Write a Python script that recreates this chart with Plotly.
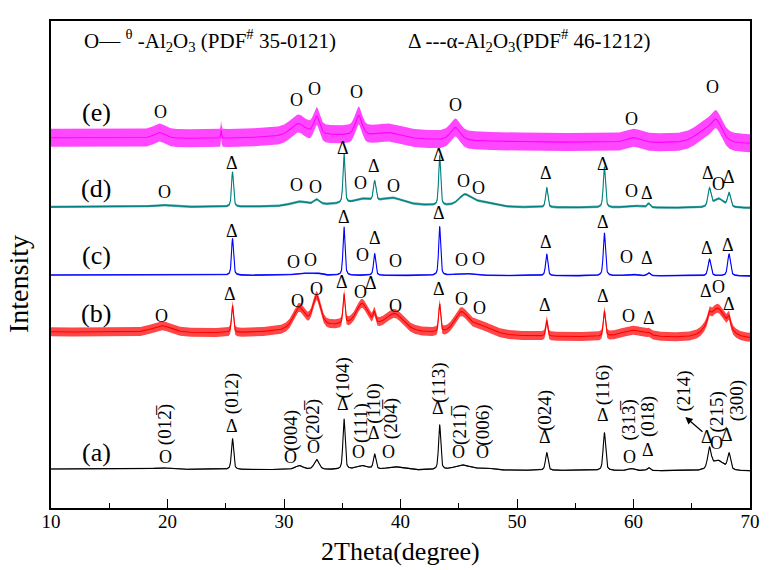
import numpy as np
import plotly.graph_objects as go

# ---------------------------------------------------------------
# XRD patterns of the alumina samples (a)-(e), stacked with offsets.
# Each pattern: linear background (level at 10 deg and 70 deg),
# peak table (2theta centre, height, FWHM) and scan noise amplitude.
# Intensity in arbitrary units.
# ---------------------------------------------------------------
two_theta = np.round(np.arange(10.0, 70.0001, 0.02), 3)

# (a)
a_background = [39.0, 37.0]
a_pos = [19.5, 25.58, 31.3, 32.8, 35.15, 36.7, 37.78, 39.5, 43.36, 45.3, 47.3, 52.55, 57.5, 59.8, 61.3, 66.52, 67.25, 68.2]
a_height = [1.5, 31, 4, 10, 51, 4, 15, 3, 45, 5, 2, 18, 38, 2, 3, 20, 10, 16]
a_fwhm = [1.5, 0.22, 0.8, 0.5, 0.22, 1.2, 0.25, 1.5, 0.22, 1.6, 1.5, 0.25, 0.25, 0.6, 0.3, 0.35, 1.2, 0.3]
a_noise = 0.6

# (b)
b_background = [176.0, 169.0]
b_pos = [19.5, 25.58, 31.3, 32.8, 35.15, 35.5, 36.7, 37.75, 39.5, 43.36, 45.2, 46.8, 52.55, 57.5, 60.0, 61.3, 66.5, 67.2, 68.2]
b_height = [7, 27, 21, 30, 30, 9, 22, 10, 16, 28, 20, 9, 16, 25, 7, 2, 8, 30, 10]
b_fwhm = [2.0, 0.2, 1.2, 0.8, 0.2, 9.0, 1.2, 0.25, 1.8, 0.2, 1.4, 2.5, 0.2, 0.22, 2.5, 0.3, 0.3, 1.8, 0.3]
b_noise = 4.5

# (c)
c_background = [233.0, 232.0]
c_pos = [25.58, 31.5, 32.8, 35.15, 37.78, 43.36, 45.5, 52.55, 57.5, 59.8, 61.3, 66.52, 68.2]
c_height = [37, 2, 2, 49, 22, 49, 2, 22, 43, 1.5, 3, 17, 22]
c_fwhm = [0.2, 1.5, 1.0, 0.2, 0.22, 0.2, 2.0, 0.22, 0.22, 1.0, 0.3, 0.28, 0.28]
c_noise = 0.8

# (d)
d_background = [301.0, 300.0]
d_pos = [19.5, 25.58, 31.2, 32.8, 35.15, 36.7, 37.0, 37.78, 39.3, 43.36, 45.5, 46.8, 52.55, 57.5, 60.0, 61.3, 66.52, 67.3, 68.2]
d_height = [2, 35, 4, 5, 50, 4, 4, 20, 6, 50, 10, 5, 20, 41, 2, 4, 18, 9, 14]
d_fwhm = [2.0, 0.2, 1.5, 0.6, 0.2, 1.5, 10.0, 0.25, 2.2, 0.2, 1.2, 2.5, 0.22, 0.22, 1.5, 0.3, 0.3, 1.0, 0.3]
d_noise = 1.2

# (e)
e_background = [370.0, 364.0]
e_pos = [19.3, 24.6, 31.2, 32.8, 34.0, 36.4, 39.0, 44.7, 60.0, 66.0, 67.1]
e_height = [6, 8, 12, 18, 5, 20, 5, 13, 5, 10, 20]
e_fwhm = [1.2, 0.08, 1.5, 0.6, 12.0, 0.7, 2.5, 1.0, 1.5, 2.0, 1.2]
e_noise = 9.0

patterns = [
    ("(a)", "#000000", a_background, a_pos, a_height, a_fwhm, a_noise),
    ("(b)", "#ff0000", b_background, b_pos, b_height, b_fwhm, b_noise),
    ("(c)", "#0000ff", c_background, c_pos, c_height, c_fwhm, c_noise),
    ("(d)", "#008080", d_background, d_pos, d_height, d_fwhm, d_noise),
    ("(e)", "#ff00ff", e_background, e_pos, e_height, e_fwhm, e_noise),
]

series_label_y = [56, 195, 253, 320, 396]


def profile(x, background, pos, height, fwhm, eta=0.5):
    """Pseudo-Voigt peaks on a linear background."""
    y = background[0] + (background[1] - background[0]) * (x - 10.0) / 60.0
    for c, h, w in zip(pos, height, fwhm):
        d = (x - c) / w
        gauss = np.exp(-4.0 * np.log(2.0) * d ** 2)
        lorentz = 1.0 / (1.0 + 4.0 * d ** 2)
        y = y + h * (eta * lorentz + (1.0 - eta) * gauss)
    return y


def rgba(hex_color, alpha):
    h = hex_color.lstrip("#")
    r, g, b = int(h[0:2], 16), int(h[2:4], 16), int(h[4:6], 16)
    return f"rgba({r},{g},{b},{alpha})"


fig = go.Figure()
for name, color, bg, pos, height, fwhm, noise in patterns:
    y = profile(two_theta, bg, pos, height, fwhm)
    # scan-noise envelope
    fig.add_trace(go.Scatter(x=two_theta, y=y - noise, mode="lines",
                             line=dict(width=0), hoverinfo="skip", showlegend=False))
    fig.add_trace(go.Scatter(x=two_theta, y=y + noise, mode="lines",
                             line=dict(width=0), fill="tonexty",
                             fillcolor=rgba(color, 0.72), hoverinfo="skip", showlegend=False))
    fig.add_trace(go.Scatter(x=two_theta, y=y, mode="lines", name=name,
                             line=dict(color=color, width=1.1), showlegend=False))

SERIF = "Liberation Serif"
annotations = []


def txt(x, y, s, size=18, angle=0, **kw):
    annotations.append(dict(x=x, y=y, xref="x", yref="y", text=s, showarrow=False,
                            textangle=angle, font=dict(family=SERIF, size=size, color="black"), **kw))


# series labels
for (name, *_), ly in zip(patterns, series_label_y):
    txt(13.9, ly, name, size=26)

# phase marks: O = theta-Al2O3, Δ = alpha-Al2O3
marks_e = [(19.4, 396, "O"), (31.1, 408, "O"), (32.6, 419, "O"), (36.2, 416, "O"),
           (44.7, 403, "O"), (59.8, 389, "O"), (66.8, 421, "O")]
marks_d = [(19.7, 316, "O"), (31.1, 323, "O"), (32.7, 321, "O"), (25.5, 345, "Δ"),
           (35.05, 360, "Δ"), (36.6, 325, "O"), (37.7, 342, "Δ"), (39.4, 322, "O"),
           (43.3, 353, "Δ"), (45.45, 327, "O"), (46.7, 320, "O"), (52.5, 335, "Δ"),
           (57.4, 344, "Δ"), (59.8, 317, "O"), (61.2, 315, "Δ"), (66.4, 335, "Δ"),
           (67.3, 324, "O"), (68.2, 331, "Δ")]
marks_c = [(25.5, 277, "Δ"), (30.8, 246, "O"), (32.3, 248, "O"), (35.15, 291, "Δ"),
           (36.7, 253, "O"), (37.8, 270, "Δ"), (39.6, 247, "O"), (43.3, 295, "Δ"),
           (45.2, 248, "O"), (46.7, 249, "O"), (52.45, 266, "Δ"), (57.4, 286, "Δ"),
           (59.4, 251, "O"), (61.2, 250, "Δ"), (66.3, 260, "Δ"), (68.1, 263, "Δ")]
marks_b = [(19.5, 192, "O"), (25.4, 214, "Δ"), (31.2, 207, "O"), (32.75, 219, "O"),
           (35.0, 226, "Δ"), (36.6, 216, "O"), (37.5, 225, "Δ"), (39.6, 202, "O"),
           (43.3, 219, "Δ"), (45.2, 209, "O"), (46.8, 200, "O"), (52.4, 203, "Δ"),
           (57.4, 212, "Δ"), (59.6, 192, "O"), (61.3, 190, "Δ"), (66.2, 217, "Δ"),
           (67.3, 221, "O"), (68.2, 204, "Δ")]
marks_a = [(19.8, 51, "O"), (25.55, 82, "Δ"), (30.6, 51, "O"), (32.5, 61, "O"),
           (35.1, 104, "Δ"), (36.4, 56, "O"), (37.7, 75, "Δ"), (39.0, 56, "O"),
           (43.25, 100, "Δ"), (45.0, 56, "O"), (47.05, 56, "O"), (52.4, 71, "Δ"),
           (57.35, 93, "Δ"), (59.65, 51, "O"), (61.25, 58, "Δ"), (66.3, 71, "Δ"),
           (67.1, 65, "O"), (68.0, 73, "Δ")]
for group in (marks_e, marks_d, marks_c, marks_b, marks_a):
    for mx, my, s in group:
        txt(mx, my, s, size=18)

# Miller indices of pattern (a)
hkl_a = [(19.8, 83, "(012\u0305)"), (25.55, 114, "(012)"), (30.6, 78, "(004)"),
         (32.5, 88, "(202\u0305)"), (35.1, 130, "(104)"), (36.6, 85, "(111)"),
         (37.7, 104, "(110)"), (39.2, 89, "(204\u0305)"), (43.3, 125, "(113)"),
         (45.1, 83, "(211\u0305)"), (47.05, 83, "(006)"), (52.4, 98, "(024)"),
         (57.4, 123, "(116)"), (59.65, 88, "(313\u0305)"), (61.25, 91, "(018)"),
         (64.3, 117, "(214)"), (67.2, 96, "(215)"), (68.9, 107, "(300)")]
for hx, hy, s in hkl_a:
    txt(hx, hy, s, size=19, angle=-90)

# arrow from the (214) reflection to its label
annotations.append(dict(x=64.45, y=91, ax=66.05, ay=75, xref="x", yref="y", axref="x", ayref="y",
                        text="", showarrow=True, arrowhead=2, arrowsize=1.2, arrowwidth=1.2,
                        arrowcolor="black"))

# phase key
annotations.append(dict(x=12.7, y=468, xref="x", yref="y", xanchor="left", showarrow=False,
                        text="O\u2013\u2013 <sup>\u03b8</sup> -Al<sub>2</sub>O<sub>3</sub> (PDF<sup>#</sup> 35-0121)",
                        font=dict(family=SERIF, size=21, color="black")))
annotations.append(dict(x=40.45, y=468, xref="x", yref="y", xanchor="left", showarrow=False,
                        text="\u0394 ---\u03b1-Al<sub>2</sub>O<sub>3</sub>(PDF<sup>#</sup> 46-1212)",
                        font=dict(family=SERIF, size=21, color="black")))

# axis titles
annotations.append(dict(x=0.5, y=0, xref="paper", yref="paper", yshift=-43, yanchor="middle",
                        showarrow=False, text="2Theta(degree)",
                        font=dict(family=SERIF, size=26, color="black")))
annotations.append(dict(x=0, y=0.46, xref="paper", yref="paper", xshift=-32, xanchor="center",
                        showarrow=False, text="Intensity", textangle=-90,
                        font=dict(family=SERIF, size=28, color="black")))

fig.update_layout(
    width=769, height=570,
    margin=dict(l=51, r=9, t=21, b=62),
    paper_bgcolor="white", plot_bgcolor="white",
    annotations=annotations,
    showlegend=False,
    xaxis=dict(range=[10, 70], dtick=10, tick0=10, ticks="inside", ticklen=9, tickwidth=1.3,
               tickcolor="black", showline=True, linecolor="black", linewidth=1.8, mirror=True,
               showgrid=False, zeroline=False, ticklabelstandoff=-5,
               tickfont=dict(family=SERIF, size=19, color="black"),
               minor=dict(dtick=5, tick0=10, ticks="inside", ticklen=5, tickwidth=1.2, tickcolor="black")),
    yaxis=dict(range=[0, 487], showticklabels=False, ticks="", showline=True, linecolor="black",
               linewidth=1.8, mirror=True, showgrid=False, zeroline=False),
)

fig.write_html("out.html")
